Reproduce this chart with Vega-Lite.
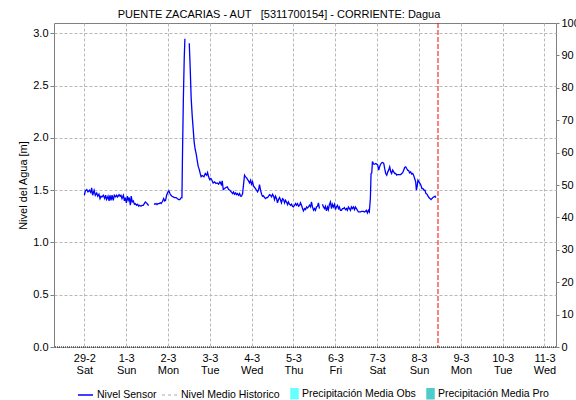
{
  "$schema": "https://vega.github.io/schema/vega-lite/v6.json",
  "width": 502,
  "height": 324,
  "autosize": {"type": "none"},
  "padding": {"left": 54, "top": 23, "right": 20, "bottom": 53},
  "background": "white",
  "config": {
    "view": {"stroke": "#808080", "strokeWidth": 1},
    "font": "Liberation Sans",
    "axis": {"labelFont": "Liberation Sans", "labelFontSize": 11, "labelColor": "#000000", "titleFont": "Liberation Sans", "titleFontSize": 11, "titleFontWeight": "normal", "titleColor": "#000000", "gridColor": "#b8b8b8", "gridDash": [3, 2], "gridWidth": 1, "gridOpacity": 1, "domain": false, "tickColor": "#808080"}
  },
  "title": {"text": "PUENTE ZACARIAS - AUT\u00a0\u00a0\u00a0[5311700154] - CORRIENTE: Dagua", "font": "Liberation Sans", "fontSize": 11, "fontWeight": "normal", "color": "#000000", "anchor": "middle", "frame": "group", "dx": -26, "offset": -3},
  "datasets": {
    "nivel": [
      {"h": 0.0, "v": 1.452}, {"h": 0.6, "v": 1.494}, {"h": 1.4, "v": 1.506}, {"h": 2.1, "v": 1.484}, {"h": 2.9, "v": 1.500}, {"h": 3.7, "v": 1.478}, {"h": 4.2, "v": 1.522}, {"h": 4.8, "v": 1.452}, {"h": 5.6, "v": 1.500}, {"h": 6.3, "v": 1.452}, {"h": 7.1, "v": 1.474}, {"h": 7.7, "v": 1.443}, {"h": 8.4, "v": 1.462}, {"h": 9.0, "v": 1.420}, {"h": 9.6, "v": 1.443}, {"h": 10.1, "v": 1.436}, {"h": 10.9, "v": 1.452}, {"h": 11.7, "v": 1.420}, {"h": 12.2, "v": 1.452}, {"h": 12.8, "v": 1.411}, {"h": 13.6, "v": 1.443}, {"h": 14.2, "v": 1.398}, {"h": 14.7, "v": 1.452}, {"h": 15.3, "v": 1.404}, {"h": 15.9, "v": 1.452}, {"h": 16.6, "v": 1.404}, {"h": 17.2, "v": 1.452}, {"h": 18.0, "v": 1.436}, {"h": 18.5, "v": 1.452}, {"h": 19.1, "v": 1.436}, {"h": 19.9, "v": 1.458}, {"h": 20.5, "v": 1.443}, {"h": 21.0, "v": 1.452}, {"h": 21.6, "v": 1.420}, {"h": 22.4, "v": 1.452}, {"h": 23.0, "v": 1.398}, {"h": 23.5, "v": 1.430}, {"h": 24.1, "v": 1.379}, {"h": 24.7, "v": 1.443}, {"h": 25.2, "v": 1.404}, {"h": 25.8, "v": 1.430}, {"h": 26.4, "v": 1.356}, {"h": 26.9, "v": 1.443}, {"h": 27.5, "v": 1.388}, {"h": 28.1, "v": 1.398}, {"h": 28.7, "v": 1.366}, {"h": 29.2, "v": 1.372}, {"h": 30.0, "v": 1.356}, {"h": 30.6, "v": 1.366}, {"h": 31.2, "v": 1.347}, {"h": 31.7, "v": 1.356}, {"h": 32.5, "v": 1.347}, {"h": 33.1, "v": 1.356}, {"h": 33.8, "v": 1.356}, {"h": 34.4, "v": 1.372}, {"h": 35.0, "v": 1.388}, {"h": 35.6, "v": 1.379}, {"h": 36.3, "v": 1.366}, {"h": 36.9, "v": 1.353},
      {"h": 38.4, "v": null},
      {"h": 40.0, "v": 1.372}, {"h": 40.5, "v": 1.366}, {"h": 41.1, "v": 1.372}, {"h": 41.7, "v": 1.363}, {"h": 42.2, "v": 1.372}, {"h": 43.0, "v": 1.372}, {"h": 43.6, "v": 1.379}, {"h": 44.1, "v": 1.372}, {"h": 44.9, "v": 1.394}, {"h": 45.5, "v": 1.420}, {"h": 46.1, "v": 1.398}, {"h": 46.6, "v": 1.404}, {"h": 47.2, "v": 1.452}, {"h": 48.0, "v": 1.484}, {"h": 48.5, "v": 1.494}, {"h": 49.1, "v": 1.468}, {"h": 49.7, "v": 1.452}, {"h": 50.3, "v": 1.443}, {"h": 51.0, "v": 1.436}, {"h": 51.8, "v": 1.430}, {"h": 52.6, "v": 1.430}, {"h": 53.3, "v": 1.420}, {"h": 54.1, "v": 1.411}, {"h": 54.8, "v": 1.411}, {"h": 55.6, "v": 1.430}, {"h": 56.0, "v": 1.43}, {"h": 56.3, "v": 1.82}, {"h": 56.8, "v": 2.36}, {"h": 57.3, "v": 2.75}, {"h": 57.7, "v": 2.95},
      {"h": 59.0, "v": null},
      {"h": 60.2, "v": 2.906}, {"h": 60.7, "v": 2.689}, {"h": 61.3, "v": 2.379}, {"h": 61.9, "v": 2.209}, {"h": 62.5, "v": 2.075}, {"h": 63.0, "v": 1.963}, {"h": 63.6, "v": 1.890}, {"h": 64.2, "v": 1.845}, {"h": 64.8, "v": 1.781}, {"h": 65.3, "v": 1.730}, {"h": 65.9, "v": 1.70}, {"h": 66.5, "v": 1.66}, {"h": 67.0, "v": 1.63}, {"h": 67.6, "v": 1.64},
      {"h": 68.6, "v": 1.628}, {"h": 69.4, "v": 1.660}, {"h": 70.2, "v": 1.644}, {"h": 70.7, "v": 1.669}, {"h": 71.3, "v": 1.628}, {"h": 71.9, "v": 1.602}, {"h": 72.6, "v": 1.612}, {"h": 73.2, "v": 1.596}, {"h": 73.9, "v": 1.570}, {"h": 74.7, "v": 1.580}, {"h": 75.5, "v": 1.564}, {"h": 76.3, "v": 1.570}, {"h": 77.0, "v": 1.558}, {"h": 77.8, "v": 1.580}, {"h": 78.6, "v": 1.554}, {"h": 79.1, "v": 1.589}, {"h": 79.7, "v": 1.506}, {"h": 80.5, "v": 1.516}, {"h": 81.2, "v": 1.526}, {"h": 82.0, "v": 1.532}, {"h": 82.8, "v": 1.506}, {"h": 83.5, "v": 1.500}, {"h": 84.3, "v": 1.484}, {"h": 85.1, "v": 1.468}, {"h": 85.6, "v": 1.484}, {"h": 86.2, "v": 1.462}, {"h": 86.8, "v": 1.474}, {"h": 87.3, "v": 1.458}, {"h": 87.9, "v": 1.468}, {"h": 88.5, "v": 1.452}, {"h": 89.1, "v": 1.468}, {"h": 89.6, "v": 1.443}, {"h": 90.2, "v": 1.443}, {"h": 90.8, "v": 1.468}, {"h": 91.4, "v": 1.564}, {"h": 91.9, "v": 1.644}, {"h": 92.5, "v": 1.628}, {"h": 93.1, "v": 1.618}, {"h": 93.7, "v": 1.602}, {"h": 94.2, "v": 1.589}, {"h": 94.8, "v": 1.570}, {"h": 95.4, "v": 1.596}, {"h": 95.9, "v": 1.558}, {"h": 96.5, "v": 1.580}, {"h": 97.1, "v": 1.538}, {"h": 97.7, "v": 1.526}, {"h": 98.2, "v": 1.516}, {"h": 98.8, "v": 1.500}, {"h": 99.4, "v": 1.484}, {"h": 100.0, "v": 1.506}, {"h": 100.5, "v": 1.554}, {"h": 101.1, "v": 1.500}, {"h": 101.7, "v": 1.462}, {"h": 102.2, "v": 1.443}, {"h": 102.8, "v": 1.446}, {"h": 103.4, "v": 1.430}, {"h": 104.0, "v": 1.420}, {"h": 104.5, "v": 1.430}, {"h": 105.1, "v": 1.430}, {"h": 105.7, "v": 1.443}, {"h": 106.3, "v": 1.458}, {"h": 106.8, "v": 1.452}, {"h": 107.4, "v": 1.436}, {"h": 108.0, "v": 1.462}, {"h": 108.6, "v": 1.443}, {"h": 109.1, "v": 1.411}, {"h": 109.7, "v": 1.443}, {"h": 110.3, "v": 1.420}, {"h": 110.8, "v": 1.379}, {"h": 111.4, "v": 1.411}, {"h": 112.0, "v": 1.430}, {"h": 112.6, "v": 1.404}, {"h": 113.1, "v": 1.379}, {"h": 113.7, "v": 1.420}, {"h": 114.3, "v": 1.411}, {"h": 114.9, "v": 1.379}, {"h": 115.4, "v": 1.404}, {"h": 116.0, "v": 1.388}, {"h": 116.6, "v": 1.363}, {"h": 117.1, "v": 1.388}, {"h": 117.7, "v": 1.366}, {"h": 118.3, "v": 1.356}, {"h": 118.9, "v": 1.366}, {"h": 119.4, "v": 1.347}, {"h": 120.0, "v": 1.340}, {"h": 120.6, "v": 1.356}, {"h": 121.2, "v": 1.372}, {"h": 121.7, "v": 1.356}, {"h": 122.3, "v": 1.372}, {"h": 122.9, "v": 1.347}, {"h": 123.5, "v": 1.356}, {"h": 124.0, "v": 1.379}, {"h": 124.6, "v": 1.356}, {"h": 125.2, "v": 1.324}, {"h": 125.7, "v": 1.302}, {"h": 126.3, "v": 1.324}, {"h": 126.9, "v": 1.314}, {"h": 127.5, "v": 1.340}, {"h": 128.0, "v": 1.330}, {"h": 128.6, "v": 1.340}, {"h": 129.2, "v": 1.356}, {"h": 129.8, "v": 1.340}, {"h": 130.3, "v": 1.388}, {"h": 130.9, "v": 1.340}, {"h": 131.5, "v": 1.308}, {"h": 132.1, "v": 1.324}, {"h": 132.6, "v": 1.308}, {"h": 133.2, "v": 1.340}, {"h": 133.8, "v": 1.347}, {"h": 134.3, "v": 1.379}, {"h": 134.9, "v": 1.324},
      {"h": 135.6, "v": null},
      {"h": 136.6, "v": 1.366}, {"h": 137.2, "v": 1.340}, {"h": 137.8, "v": 1.324}, {"h": 138.3, "v": 1.346}, {"h": 138.9, "v": 1.302}, {"h": 139.5, "v": 1.340}, {"h": 140.0, "v": 1.314}, {"h": 140.6, "v": 1.363}, {"h": 141.2, "v": 1.388}, {"h": 141.8, "v": 1.324}, {"h": 142.3, "v": 1.366}, {"h": 142.9, "v": 1.340}, {"h": 143.5, "v": 1.366}, {"h": 144.1, "v": 1.314}, {"h": 144.6, "v": 1.340}, {"h": 145.2, "v": 1.356}, {"h": 145.8, "v": 1.324}, {"h": 146.3, "v": 1.340}, {"h": 146.9, "v": 1.308}, {"h": 147.5, "v": 1.308}, {"h": 148.1, "v": 1.324}, {"h": 148.6, "v": 1.324}, {"h": 149.2, "v": 1.334}, {"h": 149.8, "v": 1.314}, {"h": 150.4, "v": 1.324}, {"h": 150.9, "v": 1.308}, {"h": 151.5, "v": 1.340}, {"h": 152.1, "v": 1.324}, {"h": 152.7, "v": 1.308}, {"h": 153.2, "v": 1.340}, {"h": 153.8, "v": 1.324}, {"h": 154.4, "v": 1.340}, {"h": 155.0, "v": 1.314}, {"h": 155.5, "v": 1.340}, {"h": 156.1, "v": 1.324}, {"h": 156.7, "v": 1.308}, {"h": 157.2, "v": 1.292}, {"h": 157.8, "v": 1.292}, {"h": 158.4, "v": 1.292}, {"h": 159.0, "v": 1.298}, {"h": 159.5, "v": 1.298}, {"h": 160.1, "v": 1.298}, {"h": 160.7, "v": 1.292}, {"h": 161.3, "v": 1.298}, {"h": 161.8, "v": 1.308}, {"h": 162.4, "v": 1.283}, {"h": 163.0, "v": 1.308}, {"h": 163.5, "v": 1.292}, {"h": 164.1, "v": 1.420}, {"h": 164.5, "v": 1.660}, {"h": 164.9, "v": 1.665}, {"h": 165.3, "v": 1.775}, {"h": 166.0, "v": 1.749}, {"h": 166.6, "v": 1.749}, {"h": 167.2, "v": 1.756}, {"h": 167.8, "v": 1.749}, {"h": 168.3, "v": 1.740}, {"h": 168.9, "v": 1.692}, {"h": 169.5, "v": 1.730}, {"h": 170.0, "v": 1.749}, {"h": 170.6, "v": 1.763}, {"h": 171.2, "v": 1.766}, {"h": 171.8, "v": 1.756}, {"h": 172.3, "v": 1.708}, {"h": 172.9, "v": 1.660}, {"h": 173.5, "v": 1.644}, {"h": 174.1, "v": 1.676}, {"h": 174.6, "v": 1.692}, {"h": 175.2, "v": 1.724}, {"h": 175.8, "v": 1.676}, {"h": 176.3, "v": 1.660}, {"h": 176.9, "v": 1.692}, {"h": 177.5, "v": 1.676}, {"h": 178.1, "v": 1.660}, {"h": 178.6, "v": 1.660}, {"h": 179.2, "v": 1.644}, {"h": 179.8, "v": 1.650}, {"h": 180.4, "v": 1.650}, {"h": 180.9, "v": 1.650}, {"h": 181.5, "v": 1.650}, {"h": 182.1, "v": 1.660}, {"h": 182.6, "v": 1.666}, {"h": 183.2, "v": 1.692}, {"h": 183.8, "v": 1.718}, {"h": 184.4, "v": 1.724}, {"h": 184.9, "v": 1.708}, {"h": 185.5, "v": 1.692}, {"h": 186.1, "v": 1.686}, {"h": 186.6, "v": 1.666}, {"h": 187.2, "v": 1.676}, {"h": 187.8, "v": 1.654}, {"h": 188.4, "v": 1.660}, {"h": 188.9, "v": 1.644}, {"h": 189.5, "v": 1.612}, {"h": 190.1, "v": 1.580}, {"h": 190.5, "v": 1.500}, {"h": 190.9, "v": 1.532}, {"h": 191.4, "v": 1.596}, {"h": 192.0, "v": 1.580}, {"h": 192.6, "v": 1.564}, {"h": 193.1, "v": 1.548}, {"h": 193.7, "v": 1.516}, {"h": 194.3, "v": 1.516}, {"h": 194.9, "v": 1.500}, {"h": 195.4, "v": 1.500}, {"h": 196.0, "v": 1.468}, {"h": 196.6, "v": 1.462}, {"h": 197.2, "v": 1.443}, {"h": 197.7, "v": 1.430}, {"h": 198.3, "v": 1.420}, {"h": 198.9, "v": 1.411}, {"h": 199.4, "v": 1.420}, {"h": 200.0, "v": 1.430}, {"h": 200.6, "v": 1.436}, {"h": 201.2, "v": 1.443}, {"h": 201.7, "v": 1.430}
    ],
    "ahora": [{"h": 202.9}]
  },
  "layer": [
    {
      "data": {"name": "nivel"},
      "mark": {"type": "line", "color": "#0000ff", "strokeWidth": 1.3, "invalid": "break-paths-show-domains"},
      "encoding": {
        "x": {"field": "h", "type": "quantitative", "scale": {"domain": [-17.4, 270.6], "nice": false, "zero": false},
          "axis": {"title": null, "values": [0, 24, 48, 72, 96, 120, 144, 168, 192, 216, 240, 264], "grid": true, "ticks": false, "labelPadding": 5, "labelBaseline": "top", "labelLineHeight": 12, "labelFlush": false, "labelOverlap": false,
            "labelExpr": "[utcFormat(utc(2020,1,29) + datum.value*3600000, '%-d-%-m'), utcFormat(utc(2020,1,29) + datum.value*3600000, '%a')]"}},
        "y": {"field": "v", "type": "quantitative", "scale": {"domain": [0, 3.1], "nice": false, "zero": true},
          "axis": {"title": "Nivel del Agua [m]", "values": [0, 0.5, 1, 1.5, 2, 2.5, 3], "format": ".1f", "grid": true, "tickSize": 4, "labelPadding": 2, "titlePadding": 4}},
        "color": {"datum": "Nivel Sensor", "type": "nominal",
          "scale": {"domain": ["Nivel Sensor", "Nivel Medio Historico", "Precipitación Media Obs", "Precipitación Media Pro"], "range": ["#0000ff", "#c8c8c8", "#66ffff", "#4dcccc"]},
          "legend": {"title": null, "orient": "none", "direction": "horizontal", "legendX": 23, "legendY": 362, "padding": 0, "symbolSize": 225, "labelFont": "Liberation Sans", "labelFontSize": 10.5, "labelColor": "#000000", "labelOffset": 3, "columnPadding": 2,
            "encode": {
              "symbols": {"update": {
                "shape": {"signal": "datum.value == 'Nivel Sensor' || datum.value == 'Nivel Medio Historico' ? 'M-1,0H1' : 'M0.067,-0.67H1V0.67H0.067Z'"},
                "fill": {"signal": "datum.value == 'Precipitación Media Obs' ? '#66ffff' : datum.value == 'Precipitación Media Pro' ? '#4dcccc' : 'transparent'"},
                "stroke": {"signal": "datum.value == 'Nivel Sensor' ? '#0000ff' : datum.value == 'Nivel Medio Historico' ? '#c8c8c8' : 'transparent'"},
                "strokeDash": {"signal": "datum.value == 'Nivel Medio Historico' ? [3, 3] : [1, 0]"},
                "strokeWidth": {"value": 1.5},
                "opacity": {"value": 1}
              }}
            }}
        }
      }
    },
    {
      "data": {"name": "ahora"},
      "mark": {"type": "rule", "color": "#ff0000", "strokeWidth": 1, "strokeDash": [5, 2]},
      "encoding": {"x": {"field": "h", "type": "quantitative"}}
    },
    {
      "data": {"values": [{"p": 0}]},
      "mark": {"type": "rule", "color": "#000000", "strokeWidth": 1, "strokeDash": [1, 1]},
      "encoding": {
        "y": {"field": "p", "type": "quantitative", "scale": {"domain": [0, 100], "nice": false},
          "axis": {"orient": "right", "title": null, "values": [0, 10, 20, 30, 40, 50, 60, 70, 80, 90, 100], "grid": false, "tickSize": 3, "labelPadding": 2}}
      }
    }
  ],
  "resolve": {"scale": {"y": "independent"}}
}
